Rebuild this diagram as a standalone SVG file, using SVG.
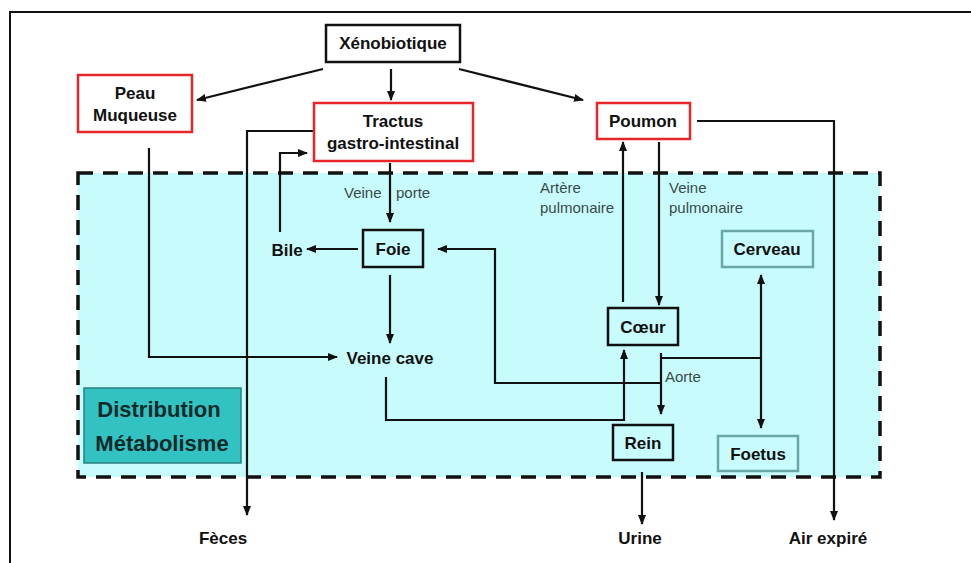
<svg xmlns="http://www.w3.org/2000/svg" width="971" height="563" viewBox="0 0 971 563">
<style>
.box{fill:none;stroke:#111;stroke-width:2.5}
.red{fill:#fff;stroke:#e8262a;stroke-width:2.5}
.teal{fill:none;stroke:#6aa6a6;stroke-width:2.5}
.lbl{font-family:"Liberation Sans",Arial,sans-serif;font-weight:bold;font-size:17px;fill:#111;text-anchor:middle}
.sm{font-family:"Liberation Sans",Arial,sans-serif;font-size:15px;fill:#3a4a4a}
.big{font-family:"Liberation Sans",Arial,sans-serif;font-weight:bold;font-size:22px;fill:#0b2a2a;text-anchor:middle}
.c{fill:none;stroke:#111;stroke-width:2.2}
</style>
<defs>
<marker id="ah" markerUnits="userSpaceOnUse" markerWidth="10" markerHeight="10" viewBox="0 0 10 10" refX="9" refY="5" orient="auto-start-reverse">
<path d="M0,1 L10,5 L0,9 Z" fill="#111"/>
</marker>
</defs>
<rect x="0" y="0" width="971" height="563" fill="#fff"/>
<rect x="10" y="12" width="1000" height="600" fill="none" stroke="#111" stroke-width="2"/>
<g id="zone">
<rect x="78" y="173" width="802" height="304" fill="#c8fcfc" stroke="#111" stroke-width="3.5" stroke-dasharray="15 10"/>
</g>
<g id="connectors">
<path class="c" d="M323,69 L197,100" marker-end="url(#ah)"/>
<path class="c" d="M391,69 V100" marker-end="url(#ah)"/>
<path class="c" d="M459,69 L583,100" marker-end="url(#ah)"/>
<path class="c" d="M313,131 H247 V515" marker-end="url(#ah)"/>
<path class="c" d="M280,232 V153 H307" marker-end="url(#ah)"/>
<path class="c" d="M149,148 V357 H337" marker-end="url(#ah)"/>
<path class="c" d="M390,163 V222" marker-end="url(#ah)"/>
<path class="c" d="M358,249 H307" marker-end="url(#ah)"/>
<path class="c" d="M390,275 V343" marker-end="url(#ah)"/>
<path class="c" d="M386,377 V420 H624 V350" marker-end="url(#ah)"/>
<path class="c" d="M623,302 V142" marker-end="url(#ah)"/>
<path class="c" d="M659,142 V305" marker-end="url(#ah)"/>
<path class="c" d="M697,121 H834 V520" marker-end="url(#ah)"/>
<path class="c" d="M661,353 V414" marker-end="url(#ah)"/>
<path class="c" d="M661,358 H761"/>
<path class="c" d="M761,275 V428" marker-start="url(#ah)" marker-end="url(#ah)"/>
<path class="c" d="M661,383 H495 V249 H438" marker-end="url(#ah)"/>
<path class="c" d="M642,472 V524" marker-end="url(#ah)"/>
<text class="sm"><tspan x="344" y="198">Veine</tspan><tspan x="396" y="198">porte</tspan></text>
<text class="sm" x="540" y="193">Artère</text>
<text class="sm" x="540" y="213">pulmonaire</text>
<text class="sm" x="669" y="193">Veine</text>
<text class="sm" x="669" y="213">pulmonaire</text>
<text class="sm" x="665" y="382">Aorte</text>
</g>
<g id="xenobiotique">
<rect class="box" x="326" y="25" width="134" height="37" fill="#fff"/>
<text class="lbl" x="393" y="49">Xénobiotique</text>
</g>
<g id="peau">
<rect class="red" x="78" y="75" width="114" height="57"/>
<text class="lbl" x="135" y="99">Peau</text>
<text class="lbl" x="135" y="121">Muqueuse</text>
</g>
<g id="tractus">
<rect class="red" x="314" y="103" width="159" height="58"/>
<text class="lbl" x="393" y="127">Tractus</text>
<text class="lbl" x="393" y="149">gastro-intestinal</text>
</g>
<g id="poumon">
<rect class="red" x="597" y="103" width="93" height="36"/>
<text class="lbl" x="643" y="127">Poumon</text>
</g>
<g id="foie">
<rect class="box" x="363" y="230" width="60" height="37"/>
<text class="lbl" x="393" y="255">Foie</text>
</g>
<g id="bile">
<text class="lbl" x="287" y="256">Bile</text>
</g>
<g id="veinecave">
<text class="lbl" x="390" y="364">Veine cave</text>
</g>
<g id="coeur">
<rect class="box" x="608" y="308" width="70" height="37"/>
<text class="lbl" x="643" y="333">Cœur</text>
</g>
<g id="cerveau">
<rect class="teal" x="722" y="231" width="91" height="36"/>
<text class="lbl" x="767" y="255">Cerveau</text>
</g>
<g id="rein">
<rect class="box" x="613" y="425" width="60" height="35"/>
<text class="lbl" x="643" y="449">Rein</text>
</g>
<g id="foetus">
<rect class="teal" x="718" y="436" width="80" height="35"/>
<text class="lbl" x="758" y="460">Foetus</text>
</g>
<g id="feces">
<text class="lbl" x="223" y="544">Fèces</text>
</g>
<g id="urine">
<text class="lbl" x="640" y="544">Urine</text>
</g>
<g id="air">
<text class="lbl" x="828" y="544">Air expiré</text>
</g>
<g id="distribution">
<rect x="84" y="388" width="157" height="75" fill="#33c2c2" stroke="#2a7f7f" stroke-width="1.5"/>
<text class="big" x="159" y="417">Distribution</text>
<text class="big" x="162" y="451">Métabolisme</text>
</g>
</svg>
